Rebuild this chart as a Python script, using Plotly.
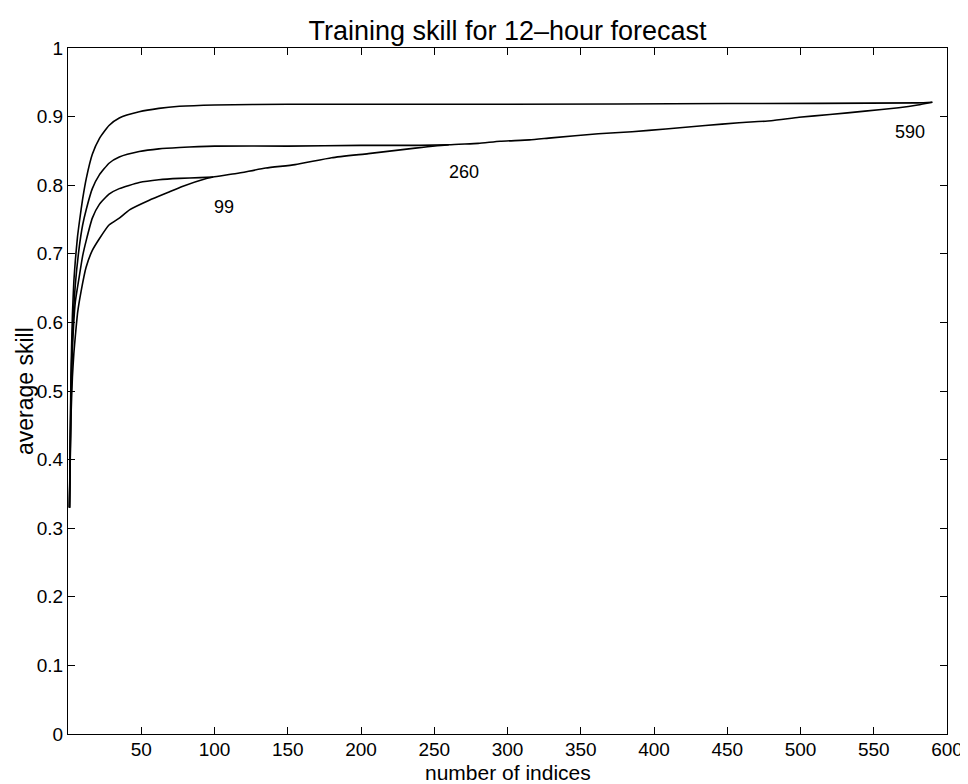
import plotly.graph_objects as go

# Curve ending at 590 indices (fastest rise, top)
x_590 = [1, 2, 3, 4, 5, 6.5, 8, 10, 12.5, 16.6, 21.4, 28, 35, 48.6, 62, 76, 100, 150, 300, 450, 580, 590]
y_590 = [0.33, 0.52, 0.61, 0.66, 0.69, 0.725, 0.75, 0.78, 0.81, 0.845, 0.868, 0.887, 0.898, 0.907, 0.912, 0.915, 0.917, 0.918, 0.918, 0.919, 0.920, 0.921]

# Curve ending at 260 indices
x_260 = [1, 2, 3, 5, 7.7, 10, 12.5, 16.6, 21.4, 28, 35, 48.6, 62, 76, 100, 150, 200, 240, 260]
y_260 = [0.33, 0.50, 0.58, 0.655, 0.71, 0.742, 0.765, 0.795, 0.815, 0.832, 0.841, 0.849, 0.853, 0.855, 0.857, 0.857, 0.858, 0.858, 0.859]

# Curve ending at 99 indices
x_99 = [1, 2, 3, 5, 7.7, 10, 12.5, 16.6, 21.4, 28, 35, 48.6, 62, 76, 90, 99]
y_99 = [0.33, 0.48, 0.56, 0.63, 0.667, 0.697, 0.72, 0.752, 0.772, 0.787, 0.795, 0.804, 0.808, 0.810, 0.811, 0.812]

# Cumulative curve over all indices (bottom, slowest)
x_all = [1, 2, 3, 4, 5, 6.6, 8.9, 12.3, 16.6, 21.4, 28, 35, 42, 55.5, 69, 78, 95, 99, 115, 135, 155, 180, 205, 237, 260,
         280, 295, 315, 330, 362, 385, 408, 435, 458, 480, 499, 520, 544, 567, 580, 590]
y_all = [0.33, 0.46, 0.52, 0.555, 0.58, 0.615, 0.645, 0.68, 0.705, 0.722, 0.742, 0.752, 0.764, 0.778, 0.790, 0.798, 0.810, 0.812, 0.817, 0.825, 0.830, 0.840, 0.846, 0.854, 0.859,
         0.861, 0.864, 0.866, 0.869, 0.875, 0.878, 0.882, 0.887, 0.891, 0.894, 0.899, 0.903, 0.908, 0.913, 0.917, 0.921]

label_text = ["99", "260", "590"]
label_x = [106.6, 270, 574.5]
label_y = [0.768, 0.819, 0.877]

x_ticks = [50, 100, 150, 200, 250, 300, 350, 400, 450, 500, 550, 600]
y_ticks = [0, 0.1, 0.2, 0.3, 0.4, 0.5, 0.6, 0.7, 0.8, 0.9, 1]
y_ticktext = ["0", "0.1", "0.2", "0.3", "0.4", "0.5", "0.6", "0.7", "0.8", "0.9", "1"]

FONT = "Liberation Sans, Arial, Helvetica, sans-serif"

fig = go.Figure()
for xs, ys in [(x_590, y_590), (x_260, y_260), (x_99, y_99), (x_all, y_all)]:
    fig.add_trace(go.Scatter(x=xs, y=ys, mode="lines",
                             line=dict(color="black", width=1.6, shape="spline", smoothing=0.5),
                             showlegend=False, hoverinfo="skip"))

for t, lx, ly in zip(label_text, label_x, label_y):
    fig.add_annotation(x=lx, y=ly, text=t, showarrow=False,
                       font=dict(family=FONT, size=18, color="black"),
                       xanchor="center", yanchor="middle")

# axis titles placed as annotations for precise positioning
fig.add_annotation(x=0.5, y=0, xref="paper", yref="paper", text="number of indices",
                   showarrow=False, xanchor="center", yanchor="middle", yshift=-38,
                   font=dict(family=FONT, size=21, color="black"))
fig.add_annotation(x=0, y=0.5, xref="paper", yref="paper", text="average skill",
                   showarrow=False, textangle=-90, xanchor="center", yanchor="middle", xshift=-43,
                   font=dict(family=FONT, size=23, color="black"))

axis_common = dict(showline=True, linecolor="black", linewidth=1, mirror="ticks",
                   ticks="inside", ticklen=7, tickcolor="black", tickwidth=1,
                   showgrid=False, zeroline=False, automargin=False,
                   tickfont=dict(family=FONT, size=19, color="black"))

fig.update_xaxes(range=[0, 600], tickvals=x_ticks, ticktext=[str(v) for v in x_ticks],
                 ticklabelstandoff=-2, **axis_common)
fig.update_yaxes(range=[0, 1], tickvals=y_ticks, ticktext=y_ticktext, **axis_common)

# page body has an 8px margin, so the figure is 8px smaller and margins shifted by 8px
fig.update_layout(
    width=960, height=776, autosize=False,
    margin=dict(l=60, r=21, t=40, b=50),
    plot_bgcolor="white", paper_bgcolor="white",
    title=dict(text="Training skill for 12–hour forecast", x=0.5, xref="paper", xanchor="center",
               y=1 - 23 / 776, yref="container", yanchor="middle",
               font=dict(family=FONT, size=27, color="black")),
)

fig.write_html("out.html")
